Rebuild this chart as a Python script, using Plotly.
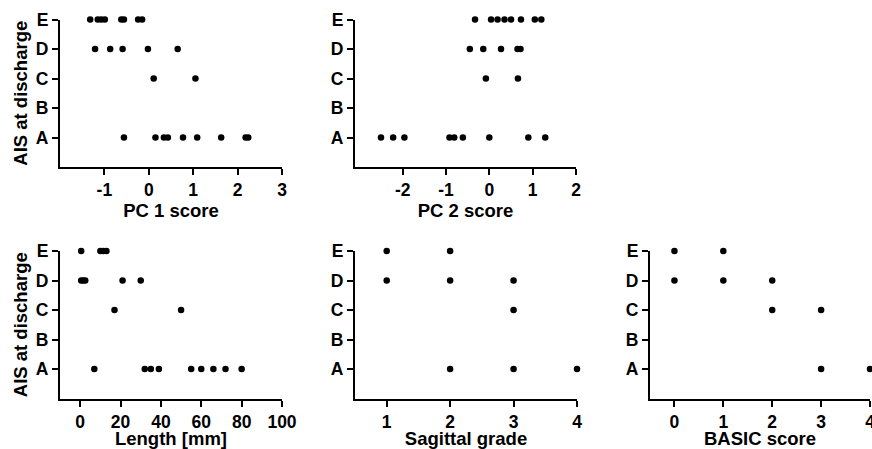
import plotly.graph_objects as go

# ---------------- data ----------------
grades = ["A", "B", "C", "D", "E"]

pc1 = {
    "E": [-1.32, -1.15, -1.07, -0.99, -0.62, -0.56, -0.24, -0.15],
    "D": [-1.21, -0.87, -0.59, -0.02, 0.65],
    "C": [0.11, 1.05],
    "B": [],
    "A": [-0.56, 0.15, 0.34, 0.43, 0.77, 1.09, 1.63, 2.18, 2.24],
}
pc2 = {
    "E": [-0.33, 0.04, 0.19, 0.35, 0.50, 0.73, 1.05, 1.20],
    "D": [-0.45, -0.14, 0.27, 0.65, 0.72],
    "C": [-0.08, 0.66],
    "B": [],
    "A": [-2.50, -2.22, -1.96, -0.92, -0.81, -0.61, 0.00, 0.90, 1.29],
}
length_mm = {
    "E": [0.5, 10, 11.5, 13],
    "D": [0.5, 1.5, 2.5, 21, 30],
    "C": [17, 50],
    "B": [],
    "A": [7, 32, 35, 39, 55, 60, 66, 72, 80],
}
sagittal = {
    "E": [1, 2],
    "D": [1, 2, 3],
    "C": [3],
    "B": [],
    "A": [2, 3, 4],
}
basic = {
    "E": [0, 1],
    "D": [0, 1, 2],
    "C": [2, 3],
    "B": [],
    "A": [3, 4],
}

x_titles = ["PC 1 score", "PC 2 score", "Length [mm]", "Sagittal grade", "BASIC score"]
x_ticks = [
    [-1, 0, 1, 2, 3],
    [-2, -1, 0, 1, 2],
    [0, 20, 40, 60, 80, 100],
    [1, 2, 3, 4],
    [0, 1, 2, 3, 4],
]
x_ranges = [[-2, 3], [-3.1, 2], [-10, 100], [0.5, 4], [-0.5, 4]]
y_title = "AIS at discharge"

# ---------------- layout geometry ----------------
W, H = 872, 449
x_dom_px = [(60, 282), (355, 576), (60, 282), (355, 577), (650, 870)]
y_dom_px = [(19.5, 167), (19.5, 167), (251, 398.5), (251, 398.5), (251, 398.5)]

datasets = [pc1, pc2, length_mm, sagittal, basic]

fig = go.Figure()
font_fam = "Liberation Sans, Arial, Helvetica, sans-serif"
tickfont = dict(family=font_fam, size=17.5, color="black", weight="bold")
titlefont = dict(family=font_fam, size=18.5, color="black", weight="bold")

layout = dict(
    width=W, height=H,
    margin=dict(l=0, r=0, t=0, b=0, autoexpand=False),
    paper_bgcolor="white", plot_bgcolor="white",
    showlegend=False,
)

for i, data in enumerate(datasets):
    n = i + 1
    xs, ys = [], []
    for g in grades:
        for v in data[g]:
            xs.append(v)
            ys.append(grades.index(g) + 1)
    fig.add_trace(go.Scatter(
        x=xs, y=ys, mode="markers",
        marker=dict(color="black", size=6.5),
        xaxis=f"x{n}" if n > 1 else "x",
        yaxis=f"y{n}" if n > 1 else "y",
        cliponaxis=False, hoverinfo="skip",
    ))
    x0, x1 = x_dom_px[i]
    yt, yb = y_dom_px[i]
    xa = dict(
        domain=[x0 / W, x1 / W],
        range=x_ranges[i],
        anchor=f"y{n}" if n > 1 else "y",
        tickvals=x_ticks[i],
        ticktext=[str(t) for t in x_ticks[i]],
        showline=True, linecolor="black", linewidth=2,
        ticks="outside", ticklen=6, tickwidth=2, tickcolor="black",
        showgrid=False, zeroline=False,
        tickfont=tickfont,
        ticklabeloverflow="allow",
        title=dict(text=x_titles[i], font=titlefont, standoff=3),
        automargin=False,
        fixedrange=True,
    )
    ya = dict(
        domain=[1 - yb / H, 1 - yt / H],
        range=[0, 5],
        anchor=f"x{n}" if n > 1 else "x",
        tickvals=[1, 2, 3, 4, 5],
        ticktext=grades,
        showline=True, linecolor="black", linewidth=2,
        ticks="outside", ticklen=6, tickwidth=2, tickcolor="black",
        showgrid=False, zeroline=False,
        tickfont=tickfont,
        ticklabeloverflow="allow",
        automargin=False,
        fixedrange=True,
    )
    if i in (0, 2):
        ya["title"] = dict(text=y_title, font=titlefont, standoff=3)
    layout[f"xaxis{n}" if n > 1 else "xaxis"] = xa
    layout[f"yaxis{n}" if n > 1 else "yaxis"] = ya

fig.update_layout(**layout)
fig.write_html(
    "out.html",
    config={"displayModeBar": False},
    post_script="document.body.style.margin='0';document.body.style.overflow='hidden';",
)
